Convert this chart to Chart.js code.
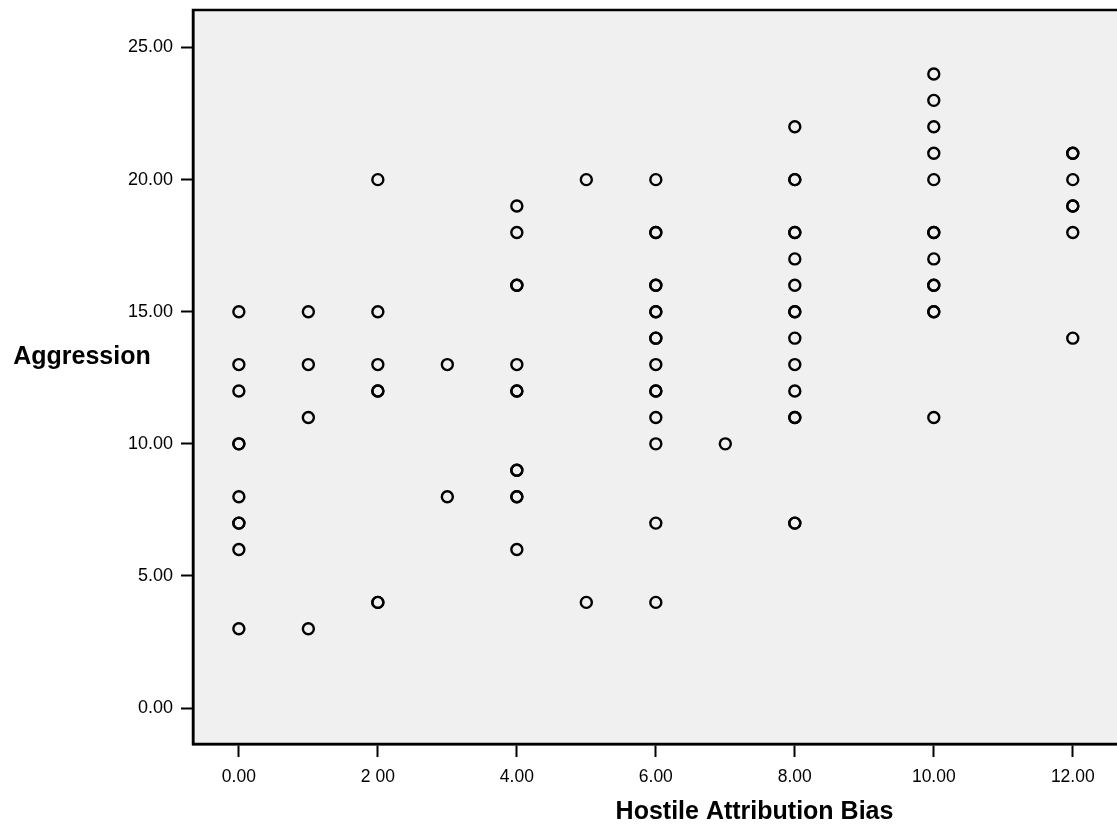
<!DOCTYPE html>
<html>
<head>
<meta charset="utf-8">
<title>Aggression vs Hostile Attribution Bias</title>
<script src="https://cdn.jsdelivr.net/npm/chart.js@4"></script>
<style>
  html, body { margin: 0; padding: 0; background: #fff; overflow: hidden; }
  #wrap { width: 1320px; height: 831px; }
</style>
</head>
<body>
<div id="wrap"><canvas id="scatter" width="1320" height="831"></canvas></div>
<script>
// Aggression scores, one list per Hostile Attribution Bias score
// (a value listed twice = two cases on the same spot, drawn darker)
let biasLevels = [0, 1, 2, 3, 4, 5, 6, 7, 8, 10, 12]
let aggr0 = [15, 13, 12, 10, 10, 8, 7, 7, 6, 3]
let aggr1 = [15, 13, 11, 3]
let aggr2 = [20, 15, 13, 12, 12, 4, 4]
let aggr3 = [13, 8]
let aggr4 = [19, 18, 16, 16, 13, 12, 12, 9, 9, 8, 8, 6]
let aggr5 = [20, 4]
let aggr6 = [20, 18, 18, 16, 16, 15, 15, 14, 14, 13, 12, 12, 11, 10, 7, 4]
let aggr7 = [10]
let aggr8 = [22, 20, 20, 18, 18, 17, 16, 15, 15, 14, 13, 12, 11, 11, 7, 7]
let aggr10 = [24, 23, 22, 21, 20, 18, 18, 17, 16, 16, 15, 15, 11]
let aggr12 = [21, 21, 20, 19, 19, 18, 14]
let aggrByLevel = [aggr0, aggr1, aggr2, aggr3, aggr4, aggr5, aggr6, aggr7, aggr8, aggr10, aggr12]

let xTicks = [0, 2, 4, 6, 8, 10, 12]
let xTickLabels = ['0.00', '2 00', '4.00', '6.00', '8.00', '10.00', '12.00']
let yTicks = [0, 5, 10, 15, 20, 25]
let yTickLabels = ['0.00', '5.00', '10.00', '15.00', '20.00', '25.00']

let points = []
for (let i = 0; i < biasLevels.length; i++) {
  for (let j = 0; j < aggrByLevel[i].length; j++) {
    points.push({ x: biasLevels[i], y: aggrByLevel[i][j] })
  }
}

const FONT = '"Liberation Sans", Arial, sans-serif'

// grey plot background + frame, and the horizontal y title
let spssLook = {
  id: 'spssLook',
  beforeDraw(chart) {
    let { ctx, chartArea } = chart
    ctx.save()
    ctx.fillStyle = '#f0f0f0'
    ctx.fillRect(chartArea.left, chartArea.top, chartArea.right - chartArea.left, chartArea.bottom - chartArea.top)
    ctx.restore()
  },
  afterDraw(chart) {
    let { ctx, chartArea } = chart
    ctx.save()
    ctx.strokeStyle = '#000'
    ctx.lineWidth = 2.5
    ctx.strokeRect(chartArea.left, chartArea.top, chartArea.right - chartArea.left, chartArea.bottom - chartArea.top)
    ctx.fillStyle = '#000'
    ctx.font = 'bold 25px ' + FONT
    ctx.textAlign = 'center'
    ctx.textBaseline = 'middle'
    ctx.fillText('Aggression', 82, 357)
    ctx.restore()
  },
}

new Chart(document.getElementById('scatter'), {
  type: 'scatter',
  data: {
    datasets: [
      {
        label: 'Aggression',
        data: points,
        pointStyle: 'circle',
        pointRadius: 5.5,
        pointHoverRadius: 5.5,
        borderWidth: 2.4,
        borderColor: '#000',
        backgroundColor: 'rgba(0,0,0,0)',
      },
    ],
  },
  options: {
    responsive: false,
    animation: false,
    devicePixelRatio: 1,
    layout: { autoPadding: false, padding: { top: 10, right: 4, left: 0, bottom: 0 } },
    plugins: {
      legend: { display: false },
      tooltip: { enabled: false },
    },
    scales: {
      x: {
        type: 'linear',
        min: -0.66,
        max: 15.5,
        afterBuildTicks: (scale) => {
          scale.ticks = xTicks.map((v) => ({ value: v }))
        },
        afterFit: (scale) => {
          scale.height = 87
          scale.paddingLeft = 0
          scale.paddingRight = 0
        },
        grid: { drawOnChartArea: false, drawTicks: true, tickLength: 13, tickWidth: 2, tickColor: '#000' },
        border: { display: true, color: '#000', width: 2.5 },
        ticks: {
          padding: 10,
          color: '#000',
          maxRotation: 0,
          font: { family: FONT, size: 17.5 },
          callback: (value, index) => xTickLabels[index],
        },
        title: {
          display: true,
          text: 'Hostile Attribution Bias',
          color: '#000',
          font: { family: FONT, size: 25, weight: 'bold' },
          padding: { top: 0, bottom: 4 },
        },
      },
      y: {
        type: 'linear',
        min: -1.36,
        max: 26.42,
        afterBuildTicks: (scale) => {
          scale.ticks = yTicks.map((v) => ({ value: v }))
        },
        afterFit: (scale) => {
          scale.width = 193
          scale.paddingTop = 0
          scale.paddingBottom = 0
        },
        grid: { drawOnChartArea: false, drawTicks: true, tickLength: 12, tickWidth: 2, tickColor: '#000' },
        border: { display: true, color: '#000', width: 2.5 },
        ticks: {
          padding: 8,
          color: '#000',
          font: { family: FONT, size: 18 },
          callback: (value, index) => yTickLabels[index],
        },
      },
    },
  },
  plugins: [spssLook],
})
</script>
</body>
</html>
